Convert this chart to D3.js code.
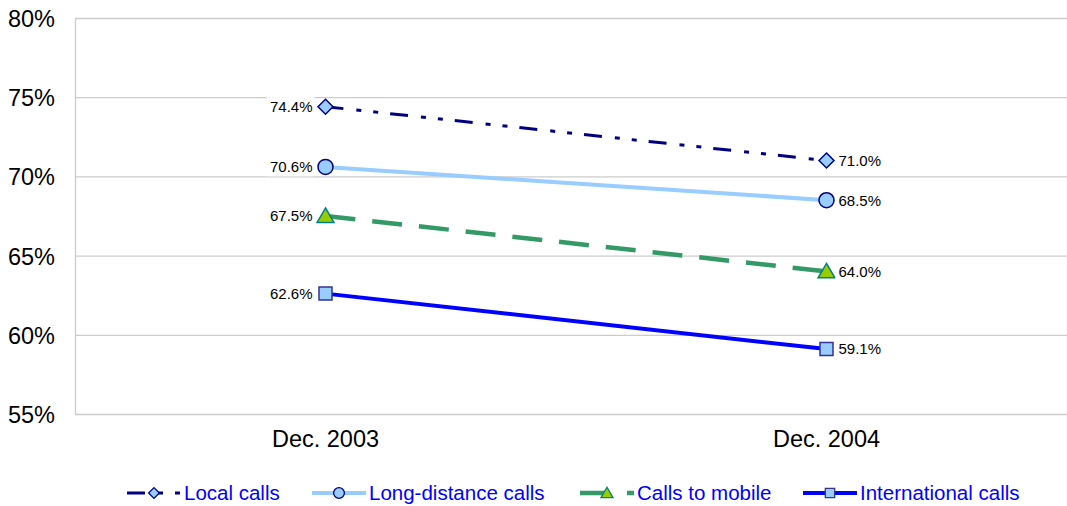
<!DOCTYPE html>
<html><head><meta charset="utf-8">
<script src="https://cdn.jsdelivr.net/npm/d3@7"></script>
<style>body{margin:0;background:#fff}svg{display:block;font-family:"Liberation Sans",Arial,sans-serif}</style>
</head><body><svg id="c" width="1067" height="506"></svg>
<script>
const categories = ["Dec. 2003", "Dec. 2004"];
const seriesNames = ["Local calls", "Long-distance calls", "Calls to mobile", "International calls"];
const localCalls = [74.4, 71.0];
const longDistanceCalls = [70.6, 68.5];
const callsToMobile = [67.5, 64.0];
const internationalCalls = [62.6, 59.1];
const yTicks = [55, 60, 65, 70, 75, 80];

const styles = [
  {stroke:"#000080", width:3, dash:"18,13,5,12,5,12", marker:"diamond", fill:"#99ccff", mstroke:"#000080"},
  {stroke:"#99ccff", width:4, dash:null, marker:"circle", fill:"#99ccff", mstroke:"#000080"},
  {stroke:"#339966", width:4.5, dash:"30,17", marker:"triangle", fill:"#99cc00", mstroke:"#008080"},
  {stroke:"#0000ff", width:4, dash:null, marker:"square", fill:"#99ccff", mstroke:"#333399"}
];
const data = [localCalls, longDistanceCalls, callsToMobile, internationalCalls];

const svg = d3.select("#c");
const L = 75, R = 1077, T = 18, B = 414;
const x = d3.scaleBand().domain(categories).range([L, R]);
const y = d3.scaleLinear().domain([55, 80]).range([B, T]);

svg.append("g").selectAll("line").data(yTicks).join("line")
  .attr("x1", L).attr("x2", R).attr("y1", d=>y(d)+0.5).attr("y2", d=>y(d)+0.5)
  .attr("stroke", "#cccccc").attr("stroke-width", 1.3);
svg.append("line").attr("x1", L+0.5).attr("x2", L+0.5).attr("y1", T).attr("y2", B+0.5)
  .attr("stroke", "#cccccc").attr("stroke-width", 1.3);

const yAxis = d3.axisLeft(y).tickValues(yTicks).tickFormat(d=>d+"%").tickSize(0).tickPadding(0);
const gy = svg.append("g").attr("transform", `translate(55,0)`).call(yAxis);
gy.select(".domain").remove();
gy.selectAll("text").attr("font-size", 23.5).attr("fill", "#000").attr("font-family", "Liberation Sans, Arial, sans-serif").attr("dy", "0.36em");

const xAxis = d3.axisBottom(x).tickSize(0).tickPadding(0);
const gx = svg.append("g").attr("transform", `translate(0,${B+16})`).call(xAxis);
gx.select(".domain").remove();
gx.selectAll("text").attr("font-size", 23.5).attr("fill", "#000").attr("font-family", "Liberation Sans, Arial, sans-serif").attr("dy", "0.71em");

function markerPath(type, s) {
  if (type === "diamond") return `M0,${-s}L${s},0L0,${s}L${-s},0Z`;
  if (type === "circle") return d3.symbol(d3.symbolCircle, Math.PI*s*s)();
  if (type === "triangle") return `M0,${-s}L${s*1.05},${s*0.8}L${-s*1.05},${s*0.8}Z`;
  if (type === "square") return `M${-s},${-s}H${s}V${s}H${-s}Z`;
}
const msize = {diamond:7.5, circle:7.5, triangle:8, square:6.5};

const cx = c => x(c) + x.bandwidth()/2;
const line = d3.line().x((d,i)=>cx(categories[i])).y(d=>y(d));

data.forEach((vals, si) => {
  const st = styles[si];
  svg.append("path").datum(vals).attr("d", line).attr("fill","none")
    .attr("stroke", st.stroke).attr("stroke-width", st.width)
    .attr("stroke-dasharray", st.dash);
  vals.forEach((v, i) => {
    svg.append("path").attr("d", markerPath(st.marker, msize[st.marker]))
      .attr("transform", `translate(${cx(categories[i])},${y(v)})`)
      .attr("fill", st.fill).attr("stroke", st.mstroke).attr("stroke-width", 1.5);
    const label = v.toFixed(1) + "%";
    const g = svg.append("g");
    const tx = i === 0 ? cx(categories[i]) - 13 : cx(categories[i]) + 12;
    const t = g.append("text").attr("x", tx).attr("y", y(v)).attr("dy","0.36em")
      .attr("text-anchor", i === 0 ? "end" : "start")
      .attr("font-size", 15).attr("fill", "#000").text(label);
    const bb = t.node().getBBox();
    g.insert("rect", "text").attr("x", bb.x-3).attr("y", bb.y-1).attr("width", bb.width+5).attr("height", bb.height+2).attr("fill","#fff");
  });
});

const legendX = [127, 312, 580, 803];
const ly = 493;
seriesNames.forEach((name, si) => {
  const st = styles[si];
  const x0 = legendX[si];
  svg.append("line").attr("x1", x0).attr("x2", x0+54).attr("y1", ly).attr("y2", ly)
    .attr("stroke", st.stroke).attr("stroke-width", st.width).attr("stroke-dasharray", st.dash);
  svg.append("path").attr("d", markerPath(st.marker, msize[st.marker]*0.72))
    .attr("transform", `translate(${x0+27},${ly})`)
    .attr("fill", st.fill).attr("stroke", st.mstroke).attr("stroke-width", 1.3);
  svg.append("text").attr("x", x0+57).attr("y", ly).attr("dy","0.36em")
    .attr("font-size", 20.5).attr("fill", "#0000ff").text(name);
});
</script></body></html>
